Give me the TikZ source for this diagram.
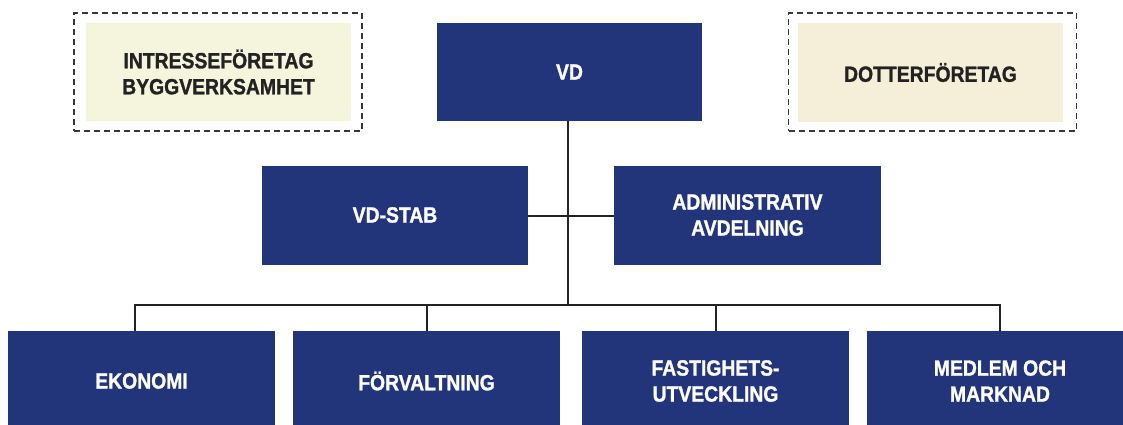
\documentclass[tikz,border=0pt]{standalone}
\usepackage{fontspec}
\setmainfont[FakeStretch=0.88, BoldFeatures={FakeBold=1.2}]{Liberation Sans}
\usepackage{tikz}
\usetikzlibrary{
  calc,       % 坐标计算
  positioning % 节点相对定位
}
\definecolor{orgblue}{RGB}{34,52,122}
\definecolor{assocfill}{RGB}{245,245,221}
\definecolor{subfill}{RGB}{245,238,216}
\definecolor{inkgray}{RGB}{34,34,34}
\tikzset{
  unit box/.style={
    rectangle,
    fill=orgblue,
    text=white,
    font=\bfseries\fontsize{22}{26}\selectfont,
    align=center,
    inner sep=0pt,
    minimum width=267pt,
    minimum height=99pt
  },
  owned box/.style={
    rectangle,
    text=inkgray,
    font=\bfseries\fontsize{22}{26}\selectfont,
    align=center,
    inner sep=0pt,
    minimum width=265pt,
    minimum height=98pt
  },
  owned frame/.style={
    rectangle,
    draw=inkgray!90,
    line width=1.3pt,
    dash pattern=on 6pt off 4pt,
    inner sep=0pt,
    minimum width=288pt,
    minimum height=118pt
  },
  org line/.style={
    draw=inkgray,
    line width=2pt
  }
}

\begin{document}
\begin{tikzpicture}[x=1pt, y=-1pt]
    % 画布范围 (像素坐标, y 轴向下)
    \clip (0,0) rectangle (1123,425);

    % --- 顶部: 关联公司 ---
    \node[owned frame] (assoc frame) at (218, 72) {};
    \node[owned box, fill=assocfill] (assoc) at (218.5, 72) {INTRESSEFÖRETAG\\BYGGVERKSAMHET};

    \node[owned frame] (sub frame) at (932.5, 72) {};
    \node[owned box, fill=subfill] (sub) at (930.5, 72.5) {DOTTERFÖRETAG};

    % --- 管理层 ---
    \node[unit box, minimum width=265pt, minimum height=98pt] (vd) at (569.5, 72) {VD};
    \node[unit box, minimum width=266pt] (stab) at (395, 215) {VD-STAB};
    \node[unit box] (adm) at (747.5, 215) {ADMINISTRATIV\\AVDELNING};

    % --- 业务部门 ---
    \node[unit box, minimum height=100pt] (eko) at (141.5, 381) {EKONOMI};
    \node[unit box, minimum height=100pt] (forv) at (426.5, 381) {FÖRVALTNING};
    \node[unit box, minimum height=100pt] (fast) at (715.5, 381) {FASTIGHETS-\\UTVECKLING};
    \node[unit box, minimum height=100pt] (medl) at (1000, 381) {MEDLEM OCH\\MARKNAD};

    % --- 连线 ---
    \coordinate (bus) at (568, 305);
    \draw[org line] (vd.south -| bus) -- (bus);
    \draw[org line] (stab.east |- 0,216) -- (adm.west |- 0,216);
    \draw[org line] ($(eko.north)+(-6.5,0)$) -- ++(0,-26) -| (medl.north);
    \draw[org line] (forv.north) -- (forv.north |- bus);
    \draw[org line] (fast.north) -- (fast.north |- bus);

  \end{tikzpicture}
\end{document}
